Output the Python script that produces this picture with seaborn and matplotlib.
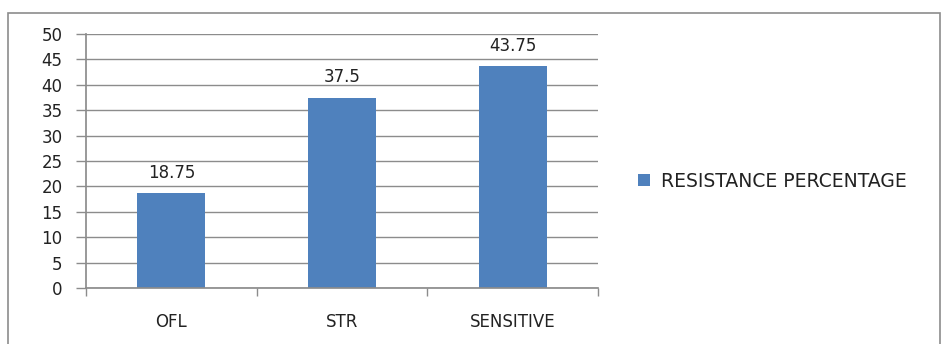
import matplotlib
matplotlib.use("Agg")
import matplotlib.pyplot as plt
import seaborn as sns
import pandas as pd
from matplotlib.patches import Rectangle

categories = ["OFL", "STR", "SENSITIVE"]
values = [18.75, 37.5, 43.75]
value_labels = ["18.75", "37.5", "43.75"]
series_name = "RESISTANCE PERCENTAGE"
yticks = [0, 5, 10, 15, 20, 25, 30, 35, 40, 45, 50]

sns.set_theme(style="white")
plt.rcParams['font.family'] = ['DejaVu Sans']

df = pd.DataFrame({"category": categories, "value": values, "series": series_name})

fig = plt.figure(figsize=(9.46, 3.44), dpi=100)
fig.patch.set_facecolor("white")
ax = fig.add_axes([86/946, 56/344, 512/946, 254/344])

sns.barplot(data=df, x="category", y="value", hue="series", ax=ax,
            palette=["#4F81BD"], width=0.4, saturation=1, legend=True,
            edgecolor="none", linewidth=0)

ax.set_ylim(0, 50)
ax.set_xlim(-0.5, 2.5)
ax.set_yticks(yticks)
ax.set_yticklabels([str(t) for t in yticks], fontsize=12, color="#222222")
ax.set_xlabel("")
ax.set_ylabel("")
ax.yaxis.grid(True, color="#8c8c8c", linewidth=1)
ax.set_axisbelow(True)
for s in ["top", "right"]:
    ax.spines[s].set_visible(False)
ax.spines["left"].set_color("#8c8c8c")
ax.spines["bottom"].set_color("#8c8c8c")
ax.tick_params(axis="y", which="both", left=True, length=7, width=1, color="#8c8c8c", pad=10)

# category labels without ticks, ticks at boundaries
ax.set_xticks([0, 1, 2])
ax.set_xticklabels(categories, fontsize=12, color="#222222")
ax.tick_params(axis="x", which="major", bottom=False, pad=12)
ax.set_xticks([-0.5, 0.5, 1.5, 2.5], minor=True)
ax.tick_params(axis="x", which="minor", bottom=True, length=6, color="#8c8c8c")

for i, (v, lab) in enumerate(zip(values, value_labels)):
    ax.annotate(lab, (i, v), xytext=(0, 8), textcoords="offset points",
                ha="center", va="bottom", fontsize=12, color="#222222")

leg = ax.legend(loc="center left", bbox_to_anchor=(552/512, 0.42), frameon=False,
                fontsize=13.5, handlelength=0.65, handleheight=0.65, handletextpad=0.55,
                borderaxespad=0, borderpad=0)
for t in leg.get_texts():
    t.set_color("#222222")

fig.patches.append(Rectangle((8/946, -0.05), 932/946, (344-13)/344 + 0.05,
                             transform=fig.transFigure, fill=False,
                             edgecolor="#8c8c8c", linewidth=1.2))

fig.savefig("out.png", dpi=100)
